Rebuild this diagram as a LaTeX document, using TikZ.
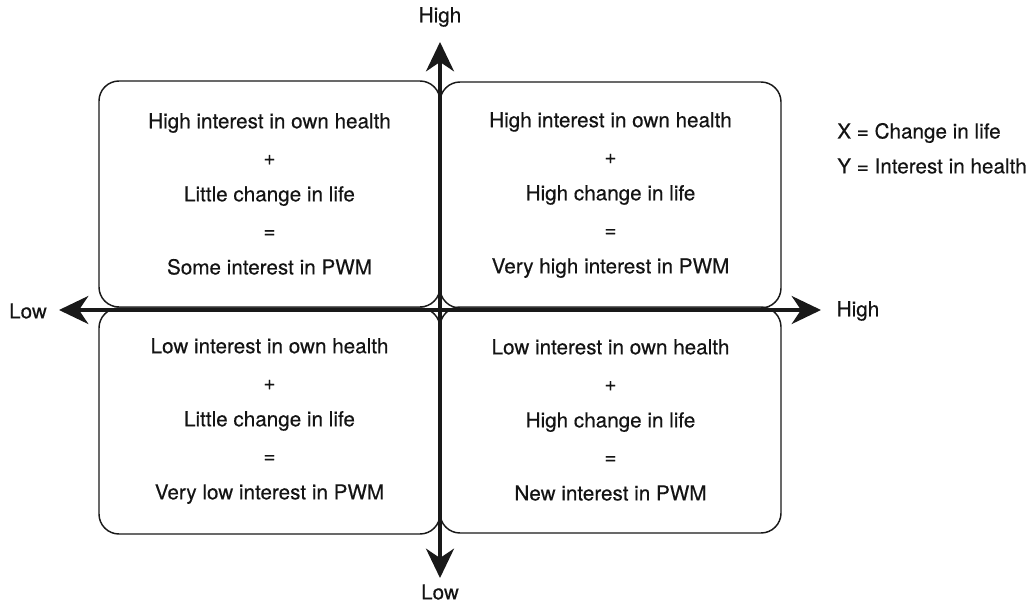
\documentclass[tikz,border=0pt]{standalone}
\usepackage{fontspec}
\setmainfont{TeX Gyre Heros}[FakeBold=0.35]
\usetikzlibrary{arrows.meta}
\begin{document}
\begin{tikzpicture}[x=0.75pt,y=-0.75pt,
  quad/.style={draw=black!90, line width=1.1pt, rounded corners=15pt,
    minimum width=255.75pt, minimum height=169.5pt, inner sep=0pt,
    align=center, font=\fontsize{15.5}{27.4}\selectfont, text=black!92},
  axis/.style={line width=2.6pt, draw=black!90,
    -{Stealth[length=22pt,width=21pt,inset=7pt]}},
  lbl/.style={font=\fontsize{15.5}{18}\selectfont, text=black!92, inner sep=0pt}]
\useasboundingbox (0,0) rectangle (1030,603);
\node[quad] (tl) at (269.5,194) {High interest in own health\\+\\Little change in life\\=\\Some interest in PWM};
\node[quad] (tr) at (610.5,195) {High interest in own health\\+\\High change in life\\=\\Very high interest in PWM};
\node[quad] (bl) at (269.5,421) {Low interest in own health\\+\\Little change in life\\=\\Very low interest in PWM};
\node[quad] (br) at (610.5,420) {Low interest in own health\\+\\High change in life\\=\\New interest in PWM};
\coordinate (c) at (440,310);
\coordinate (ytop) at (440,42);
\coordinate (ybot) at (440,578);
\coordinate (xleft) at (59,310);
\coordinate (xright) at (821,310);
\draw[axis] (c) -- (ytop);
\draw[axis] (c) -- (ybot);
\draw[axis] (c) -- (xleft);
\draw[axis] (c) -- (xright);
\node[lbl] (yhigh) at (440,17) {High};
\node[lbl] (ylow) at (440,592) {Low};
\node[lbl] (xlow) at (28,311) {Low};
\node[lbl] (xhigh) at (858,311) {High};
\node[lbl, anchor=west] (legx) at (837,133) {X = Change in life};
\node[lbl, anchor=west] (legy) at (837,166) {Y = Interest in health};
\end{tikzpicture}
\end{document}
